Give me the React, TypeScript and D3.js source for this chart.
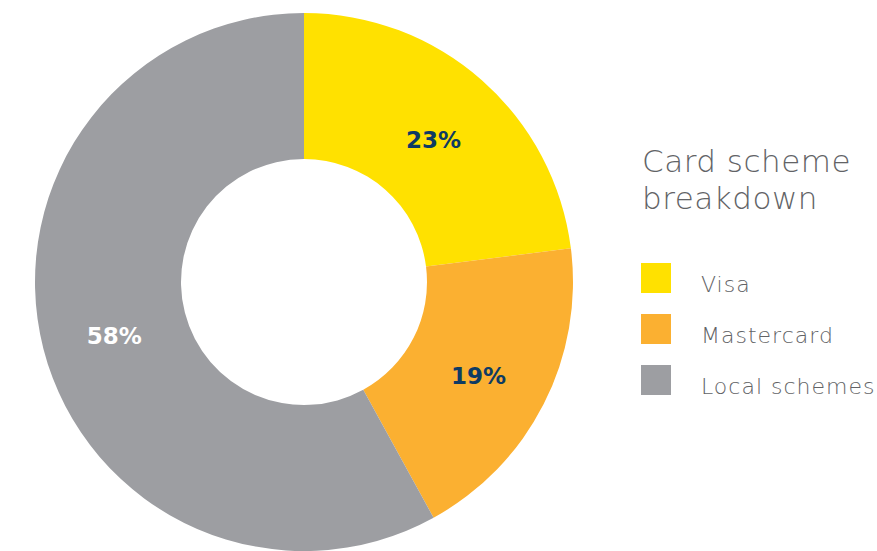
import React from "react";
import * as d3 from "d3";

const categories = ["Visa", "Mastercard", "Local schemes"];
const values = [23, 19, 58];
const colors = ["#FFE100", "#FBB031", "#9D9EA2"];
const labelColors = ["#0E3B63", "#0E3B63", "#FFFFFF"];
const title = ["Card scheme", "breakdown"];

export default function App() {
  const W = 877, H = 551;
  const cx = 304, cy = 282, rOuter = 269, rInner = 123;
  const data = categories.map((c, i) => ({ c, v: values[i], i }));
  const pie = d3.pie<any>().value((d: any) => d.v).sort(null);
  const arcs = pie(data);
  const arc = d3.arc<any>().innerRadius(rInner).outerRadius(rOuter);
  const labelArc = d3.arc<any>().innerRadius(rInner + 8).outerRadius(rOuter - 8);
  const legendY = d3.scaleBand<string>().domain(categories).range([263, 263 + 51 * 3]);
  return (
    <svg width={W} height={H} style={{ position: "absolute", left: 0, top: 0 }}>
      <g transform={`translate(${cx},${cy})`}>
        {arcs.map((a, i) => (
          <path key={i} d={arc(a) || ""} fill={colors[i]} />
        ))}
        {arcs.map((a, i) => {
          const [x, y] = labelArc.centroid(a);
          return (
            <text key={"l" + i} x={x} y={y + 5} dy="0.36em" textAnchor="middle"
              fontFamily="'DejaVu Sans', sans-serif" fontWeight="bold" fontSize={23}
              fill={labelColors[i]}>
              {`${values[i]}%`}
            </text>
          );
        })}
      </g>
      <g fontFamily="'DejaVu Sans', sans-serif" fill="#626366">
        {title.map((t, i) => (
          <text key={t} x={642} y={172 + i * 37} fontSize={31} fontWeight={300} letterSpacing={0.5}>{t}</text>
        ))}
        {categories.map((c, i) => (
          <g key={c} transform={`translate(641,${legendY(c)})`}>
            <rect width={30} height={30} fill={colors[i]} />
            <text x={60} y={29} fontSize={22} fontWeight={300} letterSpacing={1}>{c}</text>
          </g>
        ))}
      </g>
    </svg>
  );
}
